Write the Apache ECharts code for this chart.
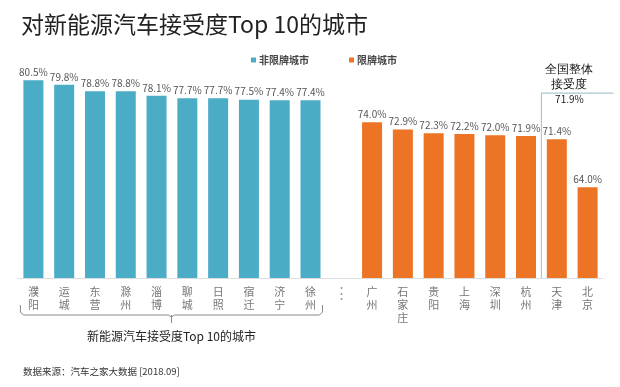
<!DOCTYPE html>
<html><head><meta charset="utf-8">
<script src="https://cdn.jsdelivr.net/npm/echarts@6/dist/echarts.min.js"></script>
<style>html,body{margin:0;padding:0;background:#fff}#c{width:620px;height:387px}</style>
</head><body><div id="c"></div>
<script>
const cities = ['濮阳','运城','东营','滁州','淄博','聊城','日照','宿迁','济宁','徐州','⋮','广州','石家庄','贵阳','上海','深圳','杭州','天津','北京'];
const nonRestricted = [80.5,79.8,78.8,78.8,78.1,77.7,77.7,77.5,77.4,77.4];
const restricted = [74.0,72.9,72.3,72.2,72.0,71.9,71.4,64.0];
const nationalAvg = 71.9;
const seriesNames = ['非限牌城市','限牌城市'];
const titleText = '对新能源汽车接受度Top 10的城市';
const braceText = '新能源汽车接受度Top 10的城市';
const sourceText = '数据来源：汽车之家大数据 [2018.09]';
const FONT = '"Noto Sans CJK SC","Noto Sans",sans-serif';

const gapCount = cities.length - nonRestricted.length - restricted.length;
const s1 = nonRestricted.concat(new Array(cities.length - nonRestricted.length).fill('-'));
const s2 = new Array(nonRestricted.length + gapCount).fill('-').concat(restricted);

const chart = echarts.init(document.getElementById('c'));
const labelCfg = {show:true, position:'top', distance:3, fontSize:10, color:'#555', fontFamily:FONT,
  formatter: p => p.value.toFixed(1) + '%'};
chart.setOption({
  animation:false,
  textStyle:{fontFamily:FONT},
  title:{text:titleText, left:16, top:8, textStyle:{fontSize:23, fontWeight:'normal', color:'#222', fontFamily:FONT}},
  legend:{left:246, top:50, itemWidth:5, itemHeight:5, itemGap:40, icon:'rect',
    textStyle:{fontSize:10, color:'#444', fontWeight:'bold', padding:[0,0,0,-2]}, data:seriesNames},
  grid:{left:18, right:17, top:51, bottom:109, containLabel:false},
  xAxis:{type:'category', data:cities,
    axisLine:{show:true, lineStyle:{color:'#dddddd'}}, axisTick:{show:false},
    axisLabel:{interval:0, margin:7, fontSize:11, lineHeight:13, color:'#777',
      formatter: v => v === '⋮' ? '{d|⋮}' : v.split('').join('\n'),
      rich:{d:{fontSize:15, color:'#999', lineHeight:15}}}},
  yAxis:{type:'value', min:50, max:85, show:false, splitLine:{show:false}},
  series:[
    {name:seriesNames[0], type:'bar', data:s1, barWidth:20, barGap:'-100%', itemStyle:{color:'#4BACC6'}, label:labelCfg},
    {name:seriesNames[1], type:'bar', data:s2, barWidth:20, barGap:'-100%', itemStyle:{color:'#EC7424'}, label:labelCfg}
  ]
});

const px = c => chart.convertToPixel({xAxisIndex:0}, c);
const base = chart.convertToPixel({yAxisIndex:0}, 50);
const lineX = (px('杭州') + px('天津')) / 2;
const topY = chart.convertToPixel({yAxisIndex:0}, 78.5);
const bL = px(cities[0]) - 13, bR = px(cities[nonRestricted.length - 1]) + 12, bM = (bL + bR) / 2;
const bTop = base + 27, bY = base + 37;
chart.setOption({graphic:[
  {type:'polyline', shape:{points:[[lineX, base],[lineX, topY],[lineX + 72, topY]]}, style:{stroke:'#a9c8d1', lineWidth:1.2, fill:null}},
  {type:'text', style:{text:'全国整体\n接受度', x:lineX + 28, y:topY - 31, align:'center', fontSize:12, lineHeight:15, fill:'#111', font:'12px ' + FONT}},
  {type:'text', style:{text:nationalAvg.toFixed(1) + '%', x:lineX + 28, y:topY + 1, align:'center', fill:'#222', font:'10px ' + FONT}},
  {type:'polyline', shape:{points:[[bL, bTop],[bL, bY - 3],[bL + 3, bY],[bM - 3, bY],[bM, bY + 2],[bM + 3, bY],[bR - 3, bY],[bR, bY - 3],[bR, bTop]]}, style:{stroke:'#888', lineWidth:1, fill:null}},
  {type:'line', shape:{x1:bM, y1:bY, x2:bM, y2:bY + 8}, style:{stroke:'#888', lineWidth:1}},
  {type:'text', style:{text:braceText, x:bM, y:bY + 15, align:'center', fill:'#222', font:'12px ' + FONT}},
  {type:'text', style:{text:sourceText, x:23, y:367, fill:'#333', font:'9.5px ' + FONT}}
]});
</script></body></html>
